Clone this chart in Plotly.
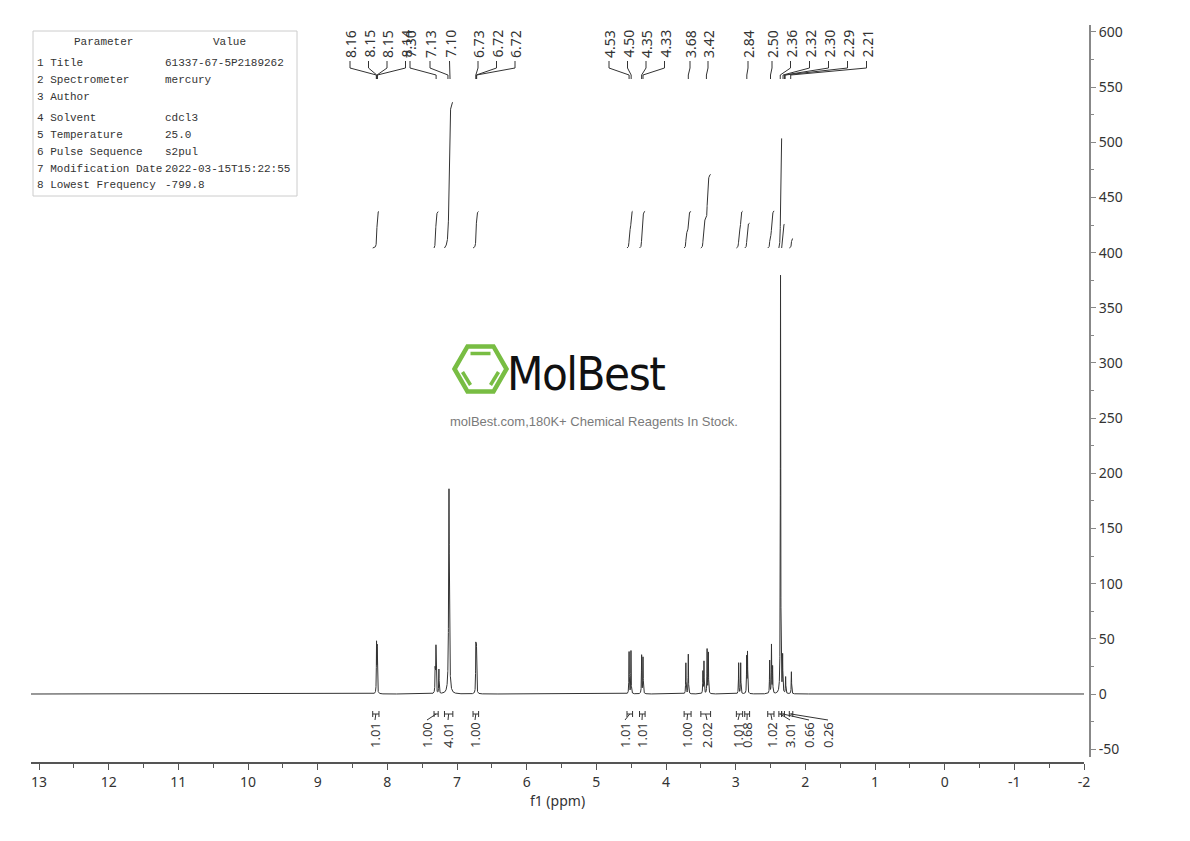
import numpy as np
import plotly.graph_objects as go

# ---------------- data ----------------
peak_ppm = [8.155, 8.146, 7.312, 7.302, 7.260, 7.115, 6.730, 6.721,
            4.530, 4.503, 4.350, 4.330, 3.715, 3.680,
            3.470, 3.455, 3.410, 3.392, 2.957, 2.928, 2.842, 2.830,
            2.512, 2.486, 2.470, 2.356, 2.326, 2.283, 2.200]
peak_height = [44, 42, 40, 41, 22, 186, 43, 42,
               38, 39, 35, 33, 28, 36,
               20, 29, 40, 37, 28, 28, 33, 37,
               30, 44, 24, 380, 33, 15, 20]
peak_hwhm = [0.003] * len(peak_ppm)
peak_hwhm[5] = 0.006

peak_labels = ["8.16", "8.15", "8.15", "8.14", "7.30", "7.13", "7.10",
               "6.73", "6.72", "6.72", "4.53", "4.50", "4.35", "4.33",
               "3.68", "3.42", "2.84", "2.50", "2.36", "2.32", "2.30", "2.29", "2.21"]
peak_label_ppm = [8.158, 8.152, 8.148, 8.142, 7.30, 7.13, 7.10,
                  6.73, 6.722, 6.718, 4.53, 4.50, 4.35, 4.33,
                  3.68, 3.42, 2.84, 2.50, 2.36, 2.32, 2.30, 2.29, 2.21]

int_start = [8.21, 7.33, 7.18, 6.77, 4.56, 4.38, 3.74, 3.50, 2.99, 2.87, 2.54, 2.38, 2.34, 2.23]
int_end = [8.12, 7.27, 7.06, 6.69, 4.48, 4.30, 3.64, 3.36, 2.90, 2.80, 2.45, 2.34, 2.30, 2.18]
int_value = [1.01, 1.00, 4.01, 1.00, 1.01, 1.01, 1.00, 2.02, 1.01, 0.68, 1.02, 3.01, 0.66, 0.26]

x_ticks = list(range(13, -3, -1))
x_ticktext = [str(v) for v in x_ticks]
y_ticks = list(range(-50, 601, 50))

param_names = ["1 Title", "2 Spectrometer", "3 Author", "4 Solvent", "5 Temperature",
               "6 Pulse Sequence", "7 Modification Date", "8 Lowest Frequency"]
param_values = ["61337-67-5P2189262", "mercury", "", "cdcl3", "25.0", "s2pul",
                "2022-03-15T15:22:55", "-799.8"]

# ---------------- layout geometry ----------------
W, H = 1190, 841
ML, MR, MT, MB = 31, 100, 25, 78
XR = (13.115, -2.0)
YR = (-57.1, 606.3)
PX0, PX1 = 31, 1084
PY0, PY1 = 25, 757


def px2ppm(px):
    return XR[0] + (px - PX0) / (PX1 - PX0) * (XR[1] - XR[0])


def py2val(py):
    return YR[1] - (py - PY0) / (PY1 - PY0) * (YR[1] - YR[0])


def pxp(px):
    return (px - ML) / (W - ML - MR)


def pyp(py):
    return (H - MB - py) / (H - MT - MB)


# label pixel positions (layout)
peak_label_px = [350, 368.5, 387, 405.5, 410, 430, 449.5,
                 478, 496.5, 515, 609, 627.5, 646, 664.5,
                 690, 708, 748, 772, 790.5, 809.5, 828.5, 847.5, 866.5]
int_label_px = [375, 427, 448, 475, 625, 642, 687, 707, 738, 747, 772, 790, 809, 828]

# ---------------- spectrum ----------------
x = np.linspace(XR[0], XR[1], 40001)
y = np.zeros_like(x)
for p, h, w in zip(peak_ppm, peak_height, peak_hwhm):
    y += h / (1 + ((x - p) / w) ** 2)

LINE = "#333333"
fig = go.Figure()
fig.add_trace(go.Scatter(x=x, y=y, mode="lines", line=dict(color=LINE, width=1),
                         hoverinfo="skip", showlegend=False))

# integral curves
INT_BASE = py2val(248)
INT_SCALE = 33.0
ix, iy = [], []
for a, b, v in zip(int_start, int_end, int_value):
    m = (x <= a) & (x >= b)
    xs = x[m]
    cs = np.cumsum(y[m])
    cs = (cs - cs[0]) / (cs[-1] - cs[0])
    ix += list(xs) + [None]
    iy += list(INT_BASE + INT_SCALE * v * cs) + [None]
fig.add_trace(go.Scatter(x=ix, y=iy, mode="lines", line=dict(color=LINE, width=1),
                         hoverinfo="skip", showlegend=False))

# peak label leaders
lx, ly = [], []
for lp, pk in zip(peak_label_px, peak_label_ppm):
    lppm = px2ppm(lp)
    lx += [lppm, lppm, pk, pk, None]
    ly += [py2val(61), py2val(68), py2val(75), py2val(79), None]
fig.add_trace(go.Scatter(x=lx, y=ly, mode="lines", line=dict(color=LINE, width=1),
                         hoverinfo="skip", showlegend=False))

annotations = []
for t, lp in zip(peak_labels, peak_label_px):
    annotations.append(dict(x=px2ppm(lp), y=py2val(60), xref="x", yref="y", text=t,
                            textangle=-90, showarrow=False, xanchor="center", yanchor="bottom",
                            font=dict(family="Noto Sans", size=14, color="#333")))

# integral brackets below the axis
bx, by = [], []
for a, b, lp in zip(int_start, int_end, int_label_px):
    mid = (a + b) / 2
    ya, yb, yc = py2val(711), py2val(717), py2val(714)
    bx += [a, a, None, b, b, None, a, b, None, mid, px2ppm(lp), None]
    by += [ya, yb, None, ya, yb, None, yc, yc, None, yc, py2val(720), None]
fig.add_trace(go.Scatter(x=bx, y=by, mode="lines", line=dict(color=LINE, width=1),
                         hoverinfo="skip", showlegend=False))
for v, lp in zip(int_value, int_label_px):
    annotations.append(dict(x=px2ppm(lp), y=py2val(720), xref="x", yref="y", text=f"{v:.2f}",
                            textangle=-90, showarrow=False, xanchor="center", yanchor="top",
                            font=dict(family="Noto Sans", size=13, color="#333")))

# parameter table
TAB_FONT = dict(family="Liberation Mono, DejaVu Sans Mono, monospace", size=11, color="#333")
annotations.append(dict(x=pxp(103), y=pyp(42), xref="paper", yref="paper", text="Parameter",
                        showarrow=False, xanchor="center", yanchor="middle", font=TAB_FONT))
annotations.append(dict(x=pxp(229), y=pyp(42), xref="paper", yref="paper", text="Value",
                        showarrow=False, xanchor="center", yanchor="middle", font=TAB_FONT))
row_py = [63, 80, 97, 118, 135, 152, 169, 185]
for nm, val, ry in zip(param_names, param_values, row_py):
    annotations.append(dict(x=pxp(35), y=pyp(ry), xref="paper", yref="paper", text=nm,
                            showarrow=False, xanchor="left", yanchor="middle", font=TAB_FONT))
    if val:
        annotations.append(dict(x=pxp(163), y=pyp(ry), xref="paper", yref="paper", text=val,
                                showarrow=False, xanchor="left", yanchor="middle", font=TAB_FONT))

shapes = [dict(type="rect", xref="paper", yref="paper", x0=pxp(33), x1=pxp(297),
               y0=pyp(31), y1=pyp(196), line=dict(color="#cccccc", width=1))]

# logo watermark
GREEN = "#78bd43"
cx, cy, r = 480.5, 369, 26
hh = r * 0.866
verts = [(cx - r, cy), (cx - r / 2, cy - hh), (cx + r / 2, cy - hh), (cx + r, cy),
         (cx + r / 2, cy + hh), (cx - r / 2, cy + hh)]
path = "M " + " L ".join(f"{pxp(a)},{pyp(b)}" for a, b in verts) + " Z"
shapes.append(dict(type="path", xref="paper", yref="paper", path=path,
                   line=dict(color=GREEN, width=4.5)))
inner = [((cx - 10, cy - 15.5), (cx + 10, cy - 15.5)),
         ((cx - 18, cy + 3), (cx - 10, cy + 16)),
         ((cx + 18, cy + 3), (cx + 10, cy + 16))]
for (a1, b1), (a2, b2) in inner:
    shapes.append(dict(type="line", xref="paper", yref="paper", x0=pxp(a1), y0=pyp(b1),
                       x1=pxp(a2), y1=pyp(b2), line=dict(color=GREEN, width=3.5)))
annotations.append(dict(x=pxp(586), y=pyp(373), xref="paper", yref="paper",
                        text='<span style="letter-spacing:-1.5px">MolBest</span>',
                        showarrow=False, xanchor="center", yanchor="middle",
                        font=dict(family="DejaVu Sans Condensed, DejaVu Sans, sans-serif",
                                  size=47, color="#111")))
annotations.append(dict(x=pxp(594), y=pyp(421), xref="paper", yref="paper",
                        text="molBest.com,180K+ Chemical Reagents In Stock.",
                        showarrow=False, xanchor="center", yanchor="middle",
                        font=dict(family="Liberation Sans, Arial, sans-serif", size=13, color="#7a7a7a")))

dom_x1 = (PX1 - ML) / (W - ML - MR)
dom_y0 = (H - MB - PY1) / (H - MT - MB)

fig.update_layout(
    width=W, height=H,
    margin=dict(l=ML, r=MR, t=MT, b=MB),
    paper_bgcolor="white", plot_bgcolor="white",
    showlegend=False,
    annotations=annotations, shapes=shapes,
    xaxis=dict(range=list(XR), domain=[0, dom_x1], anchor="free", position=0,
               showgrid=False, zeroline=False, showline=True, linecolor="#555", linewidth=1.5,
               ticks="outside", ticklen=6, tickcolor="#555", tickwidth=1.2,
               tickvals=x_ticks, ticktext=x_ticktext,
               minor=dict(tickvals=[v + 0.5 for v in x_ticks[1:]], ticks="outside", ticklen=4,
                          tickcolor="#555"),
               tickfont=dict(family="Noto Sans", size=14, color="#333"),
               title=dict(text="f1 (ppm)", font=dict(family="Noto Sans", size=14, color="#333"),
                          standoff=2)),
    yaxis=dict(range=list(YR), domain=[dom_y0, 1], anchor="free", position=1, side="right",
               showgrid=False, zeroline=False, showline=True, linecolor="#888", linewidth=2,
               ticks="outside", ticklen=5, tickcolor="#888", tickwidth=1.2,
               tickvals=y_ticks, ticktext=[str(v) for v in y_ticks],
               minor=dict(tickvals=[v + 25 for v in y_ticks[:-1]], ticks="outside", ticklen=3,
                          tickcolor="#888"),
               tickfont=dict(family="Noto Sans", size=14, color="#333")),
)

fig.write_html("out.html")
